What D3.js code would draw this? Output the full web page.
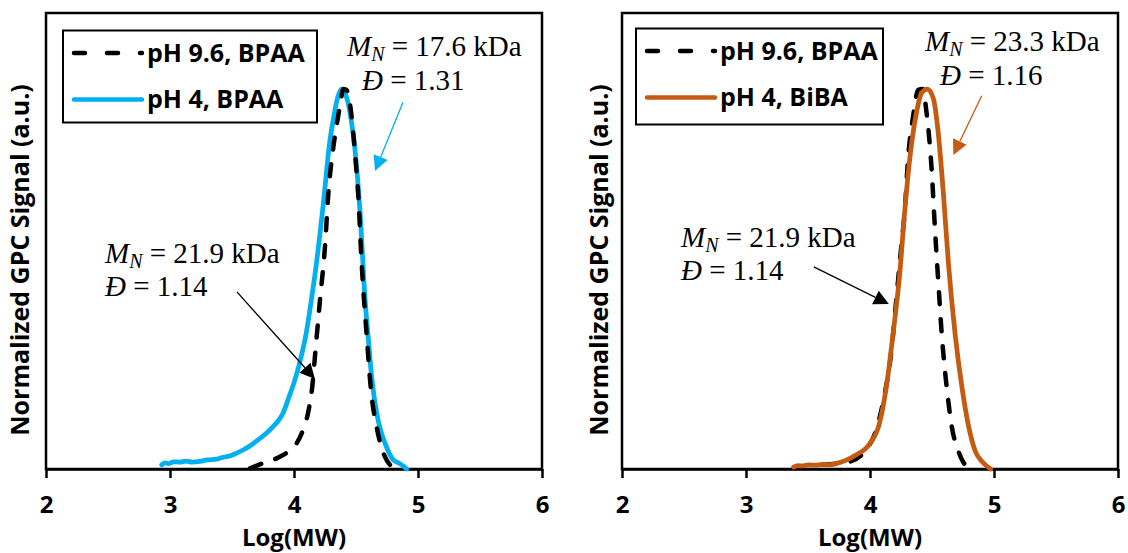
<!DOCTYPE html>
<html>
<head>
<meta charset="utf-8">
<script src="https://cdn.jsdelivr.net/npm/d3@7"></script>
<style>
  html, body { margin: 0; padding: 0; background: #fff; }
  svg { display: block; }
</style>
</head>
<body>
<svg id="chart" width="1128" height="553"></svg>
<script>
// GPC traces: normalized detector signal against log10(MW)

const xTicks = [2, 3, 4, 5, 6];
const xTitle = "Log(MW)";
const yTitle = "Normalized GPC Signal (a.u.)";

// Left panel, pH 9.6 with BPAA (dashed black)
const leftBasicLogMW = [3.645, 3.70, 3.78, 3.86, 3.914, 3.97, 4.022, 4.075, 4.115, 4.15, 4.17, 4.21, 4.25, 4.277,
  4.317, 4.357, 4.38, 4.398, 4.42, 4.438, 4.458, 4.478, 4.50, 4.519, 4.546, 4.566, 4.586, 4.62, 4.667, 4.72, 4.774, 4.815];
const leftBasicSignal = [0.002, 0.009, 0.019, 0.028, 0.037, 0.05, 0.068, 0.105, 0.15, 0.225, 0.30, 0.446, 0.586, 0.725,
  0.846, 0.93, 0.975, 1.0, 0.998, 0.986, 0.945, 0.883, 0.80, 0.716, 0.539, 0.44, 0.353, 0.21, 0.11, 0.043, 0.011, 0.004];

// Left panel, pH 4 with BPAA (blue)
const leftAcidLogMW = [2.933, 2.96, 2.99, 3.027, 3.08, 3.13, 3.18, 3.242, 3.30, 3.377, 3.43, 3.48, 3.538, 3.60, 3.65,
  3.699, 3.77, 3.833, 3.88, 3.914, 3.96, 3.995, 4.05, 4.10, 4.14, 4.18, 4.236, 4.29, 4.32, 4.344, 4.365, 4.385, 4.41,
  4.44, 4.465, 4.49, 4.532, 4.573, 4.60, 4.627, 4.667, 4.70, 4.734, 4.77, 4.80, 4.83, 4.855, 4.88, 4.909];
const leftAcidSignal = [0.011, 0.016, 0.014, 0.019, 0.018, 0.021, 0.018, 0.020, 0.024, 0.026, 0.031, 0.034, 0.042, 0.052, 0.062,
  0.074, 0.092, 0.112, 0.13, 0.149, 0.19, 0.222, 0.285, 0.36, 0.445, 0.539, 0.697, 0.865, 0.925, 0.967, 0.99, 1.0, 0.99,
  0.958, 0.91, 0.846, 0.679, 0.446, 0.34, 0.24, 0.147, 0.10, 0.068, 0.04, 0.024, 0.018, 0.014, 0.008, 0.0];

// Right panel, pH 9.6 with BPAA (dashed black)
const rightBasicLogMW = [3.628, 3.72, 3.832, 3.968, 4.049, 4.117, 4.171, 4.212, 4.252, 4.28, 4.307, 4.348, 4.389, 4.424,
  4.456, 4.497, 4.524, 4.551, 4.579, 4.619, 4.66, 4.714, 4.768, 4.796];
const rightBasicSignal = [0.011, 0.014, 0.019, 0.051, 0.102, 0.195, 0.306, 0.446, 0.585, 0.678, 0.817, 0.929, 0.998, 1.0,
  0.938, 0.789, 0.631, 0.492, 0.353, 0.214, 0.111, 0.046, 0.011, 0.005];

// Right panel, pH 4 with BiBA (orange)
const rightAcidLogMW = [3.384, 3.42, 3.46, 3.506, 3.56, 3.62, 3.67, 3.723, 3.80, 3.886, 3.995, 4.077, 4.131, 4.185, 4.239,
  4.28, 4.321, 4.375, 4.415, 4.462, 4.511, 4.551, 4.592, 4.633, 4.687, 4.742, 4.796, 4.85, 4.905, 4.973];
const rightAcidSignal = [0.005, 0.009, 0.008, 0.011, 0.010, 0.012, 0.011, 0.014, 0.022, 0.037, 0.065, 0.121, 0.214, 0.353, 0.511,
  0.678, 0.817, 0.938, 0.989, 1.0, 0.975, 0.882, 0.724, 0.539, 0.353, 0.214, 0.111, 0.046, 0.019, 0.0];

const legendLabels = [["pH 9.6, BPAA", "pH 4, BPAA"], ["pH 9.6, BPAA", "pH 4, BiBA"]];
const seriesColors = ["#000000", "#00B0F0", "#C55A11"];

// Number-average molar mass (kDa) and dispersity callouts
const mnValues = ["17.6", "21.9", "23.3", "21.9"];
const dispersityValues = ["1.31", "1.14", "1.16", "1.14"];
// Arrow tail and tip for each callout, in (logMW, signal) units
const arrowTails = [[4.879, 0.965], [3.540, 0.466], [4.901, 0.982], [3.547, 0.532]];
const arrowTips = [[4.653, 0.784], [4.169, 0.237], [4.672, 0.826], [4.152, 0.434]];

const svg = d3.select("#chart");
const plotTop = 13, plotBottom = 469;
const sansBold = "'Open Sans', 'DejaVu Sans', sans-serif";
const serif = "'Liberation Serif', 'Times New Roman', serif";

const panels = [
  {
    left: 46, right: 542, titleX: 29,
    series: [
      { x: leftAcidLogMW, y: leftAcidSignal, color: seriesColors[1], dashed: false },
      { x: leftBasicLogMW, y: leftBasicSignal, color: seriesColors[0], dashed: true }
    ],
    legend: { x: 63, y: 30.5, w: 254, h: 92, labels: legendLabels[0], colors: [seriesColors[0], seriesColors[1]] },
    notes: [
      { idx: 0, mx: 347, my: 56, dx: 362, dy: 90, color: seriesColors[1] },
      { idx: 1, mx: 105, my: 263, dx: 105, dy: 296, color: seriesColors[0] }
    ]
  },
  {
    left: 622, right: 1118, titleX: 608,
    series: [
      { x: rightBasicLogMW, y: rightBasicSignal, color: seriesColors[0], dashed: true },
      { x: rightAcidLogMW, y: rightAcidSignal, color: seriesColors[2], dashed: false }
    ],
    legend: { x: 636, y: 28.5, w: 247, h: 96, labels: legendLabels[1], colors: [seriesColors[0], seriesColors[2]] },
    notes: [
      { idx: 2, mx: 925, my: 51, dx: 940, dy: 85, color: seriesColors[2] },
      { idx: 3, mx: 681, my: 247, dx: 681, dy: 280, color: seriesColors[0] }
    ]
  }
];

panels.forEach(p => {
  const x = d3.scaleLinear().domain([2, 6]).range([p.left, p.right]);
  const y = d3.scaleLinear().domain([0, 1.2]).range([plotBottom, plotTop]);
  const g = svg.append("g");

  // plot frame
  g.append("rect")
    .attr("x", p.left).attr("y", plotTop)
    .attr("width", p.right - p.left).attr("height", plotBottom - plotTop)
    .attr("fill", "none").attr("stroke", "#000").attr("stroke-width", 2.5);

  // x axis
  const axis = g.append("g")
    .attr("transform", `translate(0,${plotBottom})`)
    .call(d3.axisBottom(x).tickValues(xTicks).tickFormat(d3.format("d"))
      .tickSizeInner(9).tickSizeOuter(0).tickPadding(18));
  axis.select(".domain").attr("stroke", "#000").attr("stroke-width", 2.5);
  axis.selectAll(".tick line").attr("stroke", "#000").attr("stroke-width", 2.5);
  axis.selectAll(".tick text")
    .attr("font-family", sansBold).attr("font-weight", "bold")
    .attr("font-size", 24).attr("fill", "#000");

  g.append("text")
    .attr("x", (p.left + p.right) / 2).attr("y", 546)
    .attr("text-anchor", "middle")
    .attr("font-family", sansBold).attr("font-weight", "bold").attr("font-size", 24)
    .text(xTitle);

  g.append("text")
    .attr("transform", `translate(${p.titleX},260) rotate(-90)`)
    .attr("text-anchor", "middle")
    .attr("font-family", sansBold).attr("font-weight", "bold").attr("font-size", 25)
    .text(yTitle);

  // traces
  const line = d3.line()
    .x(d => x(d[0])).y(d => y(d[1]))
    .curve(d3.curveMonotoneX);
  p.series.forEach(s => {
    const pts = s.x.map((v, i) => [v, s.y[i]]);
    const path = g.append("path")
      .datum(pts)
      .attr("d", line)
      .attr("fill", "none")
      .attr("stroke", s.color)
      .attr("stroke-width", s.dashed ? 4.5 : 4.75)
      .attr("stroke-linejoin", "round")
      .attr("stroke-linecap", "round");
    if (s.dashed) path.attr("stroke-dasharray", "12,15");
  });

  // legend
  const L = p.legend;
  const lg = g.append("g");
  lg.append("rect")
    .attr("x", L.x).attr("y", L.y).attr("width", L.w).attr("height", L.h)
    .attr("fill", "#fff").attr("stroke", "#000").attr("stroke-width", 2);
  const rowY = [L.y + 22.5, L.y + 69];
  L.labels.forEach((lab, i) => {
    const ly = rowY[i];
    const sample = lg.append("line")
      .attr("x1", L.x + 11).attr("x2", L.x + 79)
      .attr("y1", ly).attr("y2", ly)
      .attr("stroke", L.colors[i]).attr("stroke-width", 4.5)
      .attr("stroke-linecap", "round");
    if (i === 0) sample.attr("stroke-dasharray", "11,22");
    lg.append("text")
      .attr("x", L.x + 84).attr("y", ly + 8.5)
      .attr("font-family", sansBold).attr("font-weight", "bold").attr("font-size", 25)
      .text(lab);
  });

  // callouts
  p.notes.forEach(n => {
    const t1 = g.append("text")
      .attr("x", n.mx).attr("y", n.my)
      .attr("font-family", serif).attr("font-size", 29).attr("fill", "#000");
    t1.append("tspan").attr("font-style", "italic").text("M");
    t1.append("tspan").attr("font-style", "italic").attr("font-size", 20).attr("dy", 5).text("N");
    t1.append("tspan").attr("dy", -5).text(` = ${mnValues[n.idx]} kDa`);

    const t2 = g.append("text")
      .attr("x", n.dx).attr("y", n.dy)
      .attr("font-family", serif).attr("font-size", 29).attr("fill", "#000");
    t2.append("tspan").attr("font-style", "italic").text("Đ");
    t2.append("tspan").text(` = ${dispersityValues[n.idx]}`);

    const [tx, ty] = [x(arrowTails[n.idx][0]), y(arrowTails[n.idx][1])];
    const [hx, hy] = [x(arrowTips[n.idx][0]), y(arrowTips[n.idx][1])];
    const ang = Math.atan2(hy - ty, hx - tx);
    const headLen = 15, headHalf = 7.5;
    const bx = hx - headLen * Math.cos(ang), by = hy - headLen * Math.sin(ang);
    g.append("line")
      .attr("x1", tx).attr("y1", ty).attr("x2", bx).attr("y2", by)
      .attr("stroke", n.color).attr("stroke-width", 1.3);
    const px = -Math.sin(ang), py = Math.cos(ang);
    g.append("path")
      .attr("d", `M${hx},${hy}L${bx + px * headHalf},${by + py * headHalf}L${bx - px * headHalf},${by - py * headHalf}Z`)
      .attr("fill", n.color);
  });
});
</script>
</body>
</html>
